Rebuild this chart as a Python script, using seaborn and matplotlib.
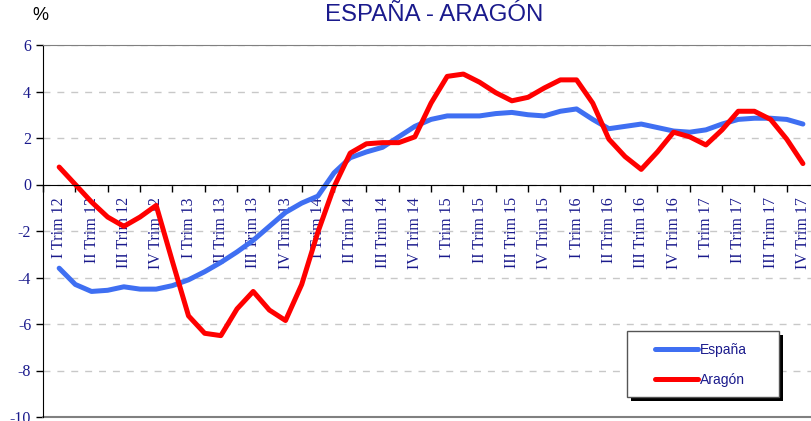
import numpy as np
import pandas as pd
import seaborn as sns
import matplotlib.pyplot as plt
from matplotlib.patches import Rectangle

# trimestres 2012-2017
quarters = ['I Trim 12', 'II Trim 12', 'III Trim 12', 'IV Trim 12',
            'I Trim 13', 'II Trim 13', 'III Trim 13', 'IV Trim 13',
            'I Trim 14', 'II Trim 14', 'III Trim 14', 'IV Trim 14',
            'I Trim 15', 'II Trim 15', 'III Trim 15', 'IV Trim 15',
            'I Trim 16', 'II Trim 16', 'III Trim 16', 'IV Trim 16',
            'I Trim 17', 'II Trim 17', 'III Trim 17', 'IV Trim 17']

# one value every half quarter
espana = [-3.6, -4.3, -4.6, -4.55, -4.4, -4.5, -4.5, -4.35, -4.1, -3.75,
          -3.35, -2.9, -2.4, -1.8, -1.2, -0.8, -0.5, 0.5, 1.15, 1.4,
          1.6, 2.05, 2.5, 2.8, 2.95, 2.95, 2.95, 3.05, 3.1, 3.0,
          2.95, 3.15, 3.25, 2.8, 2.4, 2.5, 2.6, 2.45, 2.3, 2.25,
          2.35, 2.6, 2.8, 2.85, 2.85, 2.8, 2.6]
aragon = [0.75, 0.0, -0.75, -1.4, -1.8, -1.4, -0.9, -3.3, -5.65, -6.4,
          -6.5, -5.35, -4.6, -5.4, -5.85, -4.3, -2.05, -0.1, 1.35, 1.75,
          1.8, 1.8, 2.05, 3.5, 4.65, 4.75, 4.4, 3.95, 3.6, 3.75,
          4.15, 4.5, 4.5, 3.5, 1.95, 1.2, 0.65, 1.4, 2.25, 2.05,
          1.7, 2.35, 3.15, 3.15, 2.8, 1.95, 0.9]

pos = np.arange(len(espana)) / 2
df = pd.DataFrame({'pos': np.concatenate([pos, pos]),
                   'valor': espana + aragon,
                   'serie': ['España'] * len(espana) + ['Aragón'] * len(aragon)})

sns.set_style('white')
plt.rcParams['axes.unicode_minus'] = False
navy = '#1a1a8c'
blue = '#3f6ff2'
red = '#ff0000'

fig = plt.figure(figsize=(8.11, 4.21), dpi=100)
ax = fig.add_axes([43 / 811, 4 / 421, 1 - 43 / 811, 372 / 421])

sns.lineplot(data=df, x='pos', y='valor', hue='serie',
             palette={'España': blue, 'Aragón': red},
             linewidth=3.6, ax=ax, legend=False)

ax.set_xlim(-0.47, 23.25)
ax.set_ylim(-10, 6)
ax.set_yticks(range(-10, 7, 2))
ax.yaxis.grid(True, linestyle=(0, (5, 5)), color='#c8c8c8', linewidth=1)
ax.set_xlabel('')
ax.set_ylabel('')

# eje x sobre el cero
ax.spines['bottom'].set_position(('data', 0))
ax.spines['bottom'].set_color('black')
ax.spines['left'].set_color('black')
ax.spines['top'].set_color('#808080')
ax.spines['right'].set_visible(False)
ax.axhline(-10, color='#808080', linewidth=1.5, clip_on=False)

ax.set_xticks(np.arange(len(quarters)) - 0.5)
ax.set_xticklabels([])
ax.set_xticks(np.arange(len(quarters)), minor=True)
ax.set_xticklabels(quarters, minor=True, rotation=90, color=navy,
                   family='Liberation Serif', fontsize=11.5)
ax.tick_params(axis='x', which='major', direction='out', length=5, width=1, color='black', bottom=True)
ax.tick_params(axis='x', which='minor', length=0, pad=9, bottom=True)
ax.tick_params(axis='y', direction='out', length=5, width=1, color='black', left=True,
               labelcolor=navy, labelsize=11.5)
for t in ax.get_yticklabels():
    t.set_family('Liberation Serif')

fig.text(434 / 811, 1 - 15 / 421, 'ESPAÑA - ARAGÓN', ha='center', va='center',
         color=navy, family='Liberation Sans', fontsize=17.3)
fig.text(40 / 811, 1 - 15 / 421, '%', ha='center', va='center',
         color='black', family='Liberation Sans', fontsize=13)

# caja de la leyenda con sombra negra
bx, by, bw, bh = 627, 331, 152, 66
fig.patches.append(Rectangle(((bx + 4) / 811, 1 - (by + bh + 4) / 421), bw / 811, bh / 421,
                             transform=fig.transFigure, facecolor='black', edgecolor='none', zorder=3))
fig.patches.append(Rectangle((bx / 811, 1 - (by + bh) / 421), bw / 811, bh / 421,
                             transform=fig.transFigure, facecolor='white', edgecolor='#555555',
                             linewidth=1, zorder=4))

handles = [plt.Line2D([], [], color=blue, linewidth=3.6),
           plt.Line2D([], [], color=red, linewidth=3.6)]
leg = fig.legend(handles, ['España', 'Aragón'], loc='center',
                 bbox_to_anchor=((bx + bw / 2 - 2) / 811, 1 - (by + bh / 2 + 1) / 421),
                 frameon=False, handlelength=3.1, labelspacing=1.15, borderpad=0,
                 handletextpad=0.15, prop={'family': 'Liberation Sans', 'size': 10})
leg.set_zorder(5)
for t in leg.get_texts():
    t.set_color(navy)

fig.savefig('out.png', dpi=100)
